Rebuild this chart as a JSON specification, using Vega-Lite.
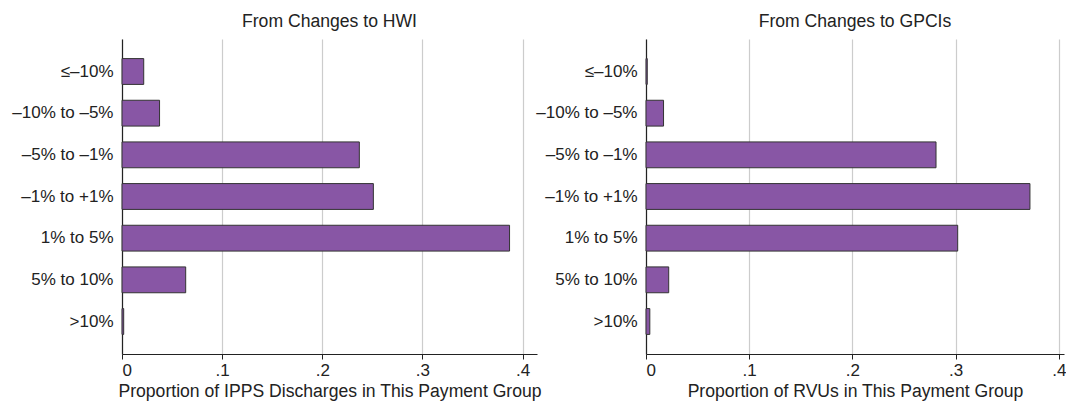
{
  "$schema": "https://vega.github.io/schema/vega-lite/v6.json",
  "background": "white",
  "padding": {"left": 11, "top": 13, "right": 0, "bottom": 2},
  "bounds": "flush",
  "spacing": 109,
  "datasets": {
    "hwi": [
      {"group": "≤–10%", "value": 0.0217},
      {"group": "–10% to –5%", "value": 0.0375},
      {"group": "–5% to –1%", "value": 0.237},
      {"group": "–1% to +1%", "value": 0.251},
      {"group": "1% to 5%", "value": 0.387},
      {"group": "5% to 10%", "value": 0.0636},
      {"group": ">10%", "value": 0.0017}
    ],
    "gpci": [
      {"group": "≤–10%", "value": 0.0012},
      {"group": "–10% to –5%", "value": 0.017},
      {"group": "–5% to –1%", "value": 0.281},
      {"group": "–1% to +1%", "value": 0.372},
      {"group": "1% to 5%", "value": 0.302},
      {"group": "5% to 10%", "value": 0.022},
      {"group": ">10%", "value": 0.0037}
    ]
  },
  "config": {
    "font": "Liberation Sans",
    "view": {"stroke": null},
    "title": {"fontSize": 17.6, "fontWeight": "normal", "color": "#222", "font": "Liberation Sans", "offset": 8},
    "axis": {"labelFont": "Liberation Sans", "titleFont": "Liberation Sans", "labelColor": "#222", "titleColor": "#222", "domainColor": "#222", "tickColor": "#222"}
  },
  "hconcat": [
    {
      "title": "From Changes to HWI",
      "width": 415,
      "height": 315,
      "data": {"name": "hwi"},
      "mark": {"type": "bar", "fill": "#8856a5", "stroke": "#333333", "strokeWidth": 1},
      "encoding": {
        "y": {
          "field": "group", "type": "nominal",
          "sort": ["≤–10%", "–10% to –5%", "–5% to –1%", "–1% to +1%", "1% to 5%", "5% to 10%", ">10%"],
          "scale": {"paddingInner": 0.38, "paddingOuter": 0.47},
          "axis": {"title": null, "ticks": false, "labelFontSize": 17, "labelPadding": 9, "domainWidth": 1.2}
        },
        "x": {
          "field": "value", "type": "quantitative",
          "scale": {"domain": [0, 0.4144], "nice": false, "zero": true},
          "axis": {
            "title": "Proportion of IPPS Discharges in This Payment Group",
            "titleFontSize": 17.6, "titleFontWeight": "normal", "titlePadding": 4,
            "values": [0, 0.1, 0.2, 0.3, 0.4],
            "labelExpr": "datum.value == 0 ? '0' : replace(format(datum.value, '.1f'), '0.', '.')",
            "labelFontSize": 17, "labelPadding": 3, "tickSize": 5,
            "grid": true, "gridColor": "#cccccc", "gridWidth": 1.2, "domainWidth": 1.2
          }
        }
      }
    },
    {
      "title": "From Changes to GPCIs",
      "width": 418,
      "height": 315,
      "data": {"name": "gpci"},
      "mark": {"type": "bar", "fill": "#8856a5", "stroke": "#333333", "strokeWidth": 1},
      "encoding": {
        "y": {
          "field": "group", "type": "nominal",
          "sort": ["≤–10%", "–10% to –5%", "–5% to –1%", "–1% to +1%", "1% to 5%", "5% to 10%", ">10%"],
          "scale": {"paddingInner": 0.38, "paddingOuter": 0.47},
          "axis": {"title": null, "ticks": false, "labelFontSize": 17, "labelPadding": 9, "domainWidth": 1.2}
        },
        "x": {
          "field": "value", "type": "quantitative",
          "scale": {"domain": [0, 0.405], "nice": false, "zero": true},
          "axis": {
            "title": "Proportion of RVUs in This Payment Group",
            "titleFontSize": 17.6, "titleFontWeight": "normal", "titlePadding": 4,
            "values": [0, 0.1, 0.2, 0.3, 0.4],
            "labelExpr": "datum.value == 0 ? '0' : replace(format(datum.value, '.1f'), '0.', '.')",
            "labelFontSize": 17, "labelPadding": 3, "tickSize": 5,
            "grid": true, "gridColor": "#cccccc", "gridWidth": 1.2, "domainWidth": 1.2
          }
        }
      }
    }
  ]
}
